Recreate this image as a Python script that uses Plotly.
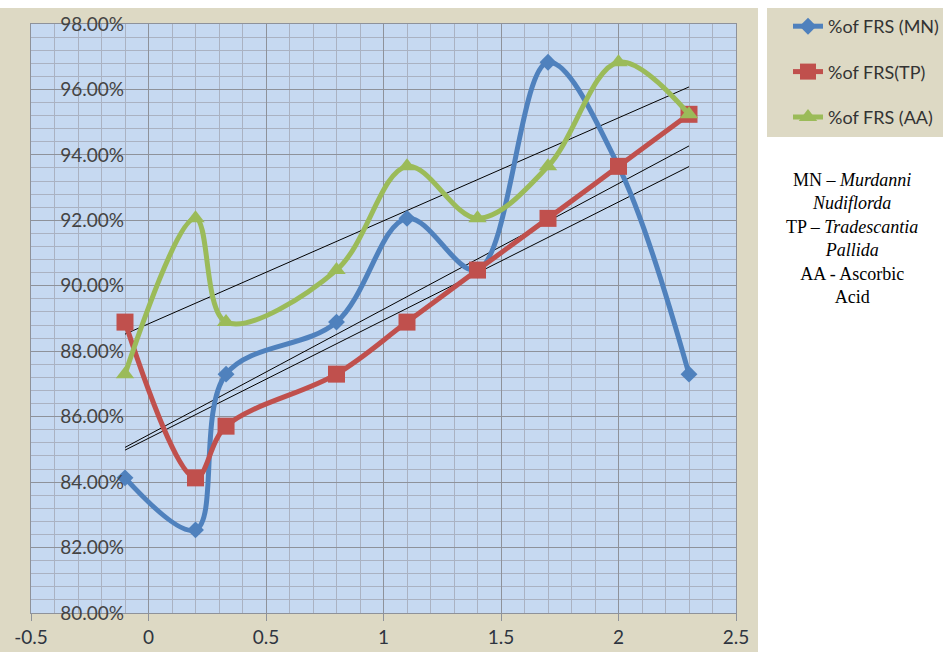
import numpy as np
import plotly.graph_objects as go

x_vals = [-0.1, 0.2, 0.33, 0.8, 1.1, 1.4, 1.7, 2.0, 2.3]
frs_mn = [0.8413, 0.8254, 0.8730, 0.8889, 0.9206, 0.9048, 0.9683, 0.9365, 0.8730]
frs_tp = [0.8889, 0.8413, 0.8571, 0.8730, 0.8889, 0.9048, 0.9206, 0.9365, 0.9524]
frs_aa = [0.8730, 0.9206, 0.8889, 0.9048, 0.9365, 0.9206, 0.9365, 0.9683, 0.9524]
series_names = ["%of FRS (MN)", "%of FRS(TP)", "%of FRS (AA)"]
y_ticks = [0.80, 0.82, 0.84, 0.86, 0.88, 0.90, 0.92, 0.94, 0.96, 0.98]
x_ticks = [-0.5, 0, 0.5, 1, 1.5, 2, 2.5]

colors = ["#4f81bd", "#c0504d", "#9bbb59"]
symbols = ["diamond", "square", "triangle-up"]
sizes = [13, 17, 16]

fig = go.Figure()

# trendlines (linear fits)
xs = np.array(x_vals)
for ys in [frs_mn, frs_tp, frs_aa]:
    k, b = np.polyfit(xs, np.array(ys), 1)
    xe = np.array([xs.min(), xs.max()])
    fig.add_trace(go.Scatter(x=xe, y=k * xe + b, mode="lines",
                             line=dict(color="black", width=1),
                             showlegend=False, hoverinfo="skip"))

for i, (name, ys) in enumerate(zip(series_names, [frs_mn, frs_tp, frs_aa])):
    fig.add_trace(go.Scatter(
        x=x_vals, y=ys, name=name, mode="lines+markers",
        line=dict(color=colors[i], width=5, shape="spline", smoothing=1),
        marker=dict(symbol=symbols[i], size=sizes[i], color=colors[i]),
        legendgroup=name,
    ))

W, H = 943, 652
L, R, T, B = 31, 207, 24, 39
pw, ph = W - L - R, H - T - B

def px(xp):
    return (xp - L) / pw

def py(yp):
    return (H - B - yp) / ph

shapes = [
    dict(type="rect", xref="paper", yref="paper", x0=px(0), x1=px(758), y0=py(652), y1=py(8),
         fillcolor="#ddd9c4", line=dict(width=0), layer="below"),
    dict(type="rect", xref="paper", yref="paper", x0=0, x1=1, y0=0, y1=1,
         fillcolor="#c6d9f1", line=dict(width=0), layer="below"),
    dict(type="rect", xref="paper", yref="paper", x0=px(767), x1=px(943), y0=py(137), y1=py(8),
         fillcolor="#ddd9c4", line=dict(width=0), layer="below"),
]

fig.update_layout(
    width=W, height=H,
    margin=dict(l=L, r=R, t=T, b=B, autoexpand=False),
    paper_bgcolor="white",
    plot_bgcolor="rgba(0,0,0,0)",
    shapes=shapes,
    font=dict(family="Lato", size=19, color="#2e3440"),
    xaxis=dict(range=[-0.5, 2.5], tickvals=x_ticks, ticktext=[str(v) for v in x_ticks],
               showgrid=True, gridcolor="#8e929a", gridwidth=1,
               minor=dict(dtick=0.1, showgrid=True, gridcolor="#aab2c2", gridwidth=1),
               ticks="outside", ticklen=7, tickcolor="#8e929a",
               showline=True, linecolor="#8e929a", mirror=True, zeroline=False,
               automargin=False, ticklabeloverflow="allow"),
    yaxis=dict(range=[0.80, 0.98], tickvals=y_ticks, tickformat=".2%",
               showgrid=True, gridcolor="#8e929a", gridwidth=1,
               minor=dict(dtick=0.004, tick0=0.8, showgrid=True, gridcolor="#aab2c2", gridwidth=1),
               ticklabelposition="inside", ticklabelstandoff=30, ticks="",
               showline=True, linecolor="#8e929a", mirror=True, zeroline=False,
               automargin=False, ticklabeloverflow="allow"),
    legend=dict(x=px(788), y=py(8), xanchor="left", yanchor="top",
                bgcolor="rgba(0,0,0,0)", font=dict(family="Lato", size=18, color="#333333"),
                tracegroupgap=19),
    annotations=[dict(
        xref="paper", yref="paper", x=px(852), y=py(168), xanchor="center", yanchor="top",
        showarrow=False, align="center",
        text="MN – <i>Murdanni</i><br><i>Nudiflorda</i><br>TP – <i>Tradescantia</i><br><i>Pallida</i><br>AA - Ascorbic<br>Acid",
        font=dict(family="Liberation Serif", size=18, color="black"),
    )],
)

fig.write_html("out.html", config={"displayModeBar": False},
               post_script="document.body.style.margin='0';document.body.style.padding='0';")
